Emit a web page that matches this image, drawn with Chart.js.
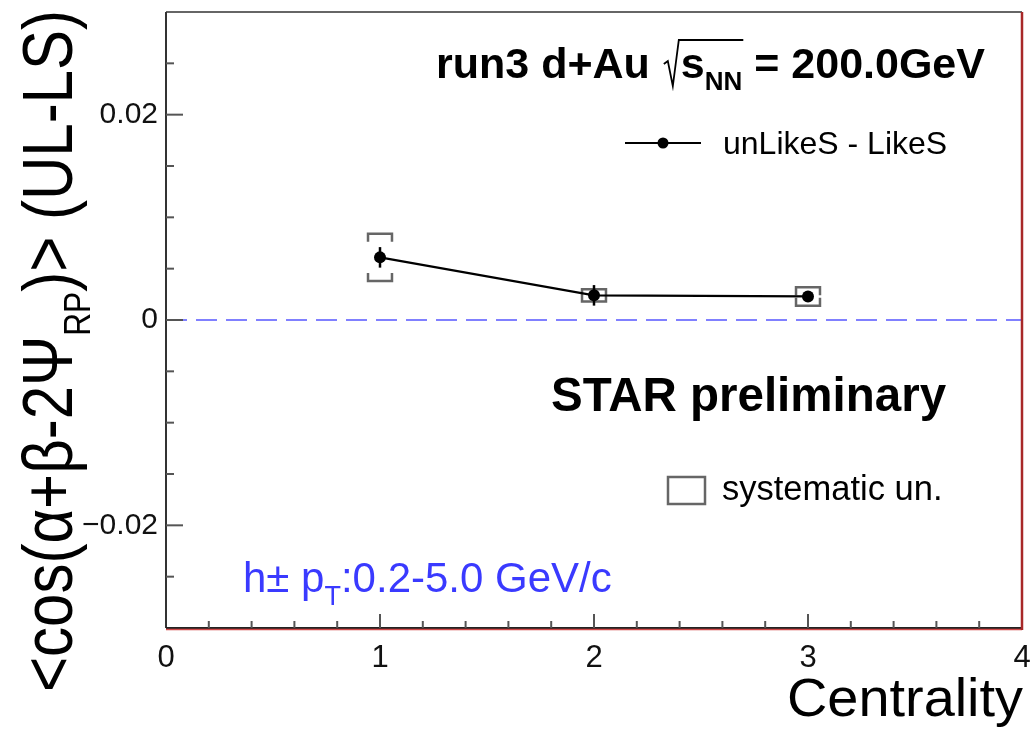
<!DOCTYPE html>
<html>
<head>
<meta charset="utf-8">
<script src="https://cdn.jsdelivr.net/npm/chart.js@4.4.1/dist/chart.umd.min.js"></script>
<style>
  html, body { margin: 0; padding: 0; background: #fff; }
  #wrap { width: 1036px; height: 730px; }
</style>
</head>
<body>
<div id="wrap"><canvas id="chart" width="1036" height="730"></canvas></div>
<script>
// data
const centrality = [1, 2, 3];
const corrValues = [0.0061, 0.0024, 0.0023];
const statErrors = [0.0010, 0.0010, 0.0003];
const sysErrors = [0.0023, 0.0006, 0.0009];
const sysHalfWidth = 0.056;

const xTicks = [0, 1, 2, 3, 4];
const xTickLabels = ['0', '1', '2', '3', '4'];
const yTicks = [-0.02, 0, 0.02];
const yTickLabels = ['\u22120.02', '0', '0.02'];

const FONT = "'Liberation Sans', Arial, Helvetica, sans-serif";

// draws a list of text pieces one after another (for sub/superscripts)
function drawRuns(ctx, x, y, runs) {
  let cx = x;
  runs.forEach(r => {
    ctx.font = r.font;
    ctx.fillText(r.text, cx, y + (r.dy || 0));
    cx += ctx.measureText(r.text).width;
  });
  return cx;
}
function runsWidth(ctx, runs) {
  let w = 0;
  runs.forEach(r => { ctx.font = r.font; w += ctx.measureText(r.text).width; });
  return w;
}

const rootStyle = {
  id: 'rootStyle',
  beforeDatasetsDraw(chart) {
    const { ctx, chartArea: a, scales: { x, y } } = chart;
    ctx.save();
    // dashed zero line
    ctx.strokeStyle = '#8080ff';
    ctx.lineWidth = 2;
    ctx.setLineDash([21, 9]);
    ctx.beginPath();
    ctx.moveTo(a.left, y.getPixelForValue(0));
    ctx.lineTo(a.right, y.getPixelForValue(0));
    ctx.stroke();
    ctx.setLineDash([]);

    // systematic boxes (bracket style)
    ctx.strokeStyle = '#666';
    ctx.lineWidth = 2.5;
    centrality.forEach((c, i) => {
      const x0 = x.getPixelForValue(c - sysHalfWidth);
      const x1 = x.getPixelForValue(c + sysHalfWidth);
      const yt = y.getPixelForValue(corrValues[i] + sysErrors[i]);
      const yb = y.getPixelForValue(corrValues[i] - sysErrors[i]);
      const leg = Math.min(8, (yb - yt) / 2);
      ctx.beginPath();
      ctx.moveTo(x0, yt + leg); ctx.lineTo(x0, yt); ctx.lineTo(x1, yt); ctx.lineTo(x1, yt + leg);
      ctx.moveTo(x0, yb - leg); ctx.lineTo(x0, yb); ctx.lineTo(x1, yb); ctx.lineTo(x1, yb - leg);
      ctx.stroke();
    });

    // statistical error bars
    ctx.strokeStyle = '#000';
    ctx.lineWidth = 2.5;
    centrality.forEach((c, i) => {
      const px = x.getPixelForValue(c);
      ctx.beginPath();
      ctx.moveTo(px, y.getPixelForValue(corrValues[i] + statErrors[i]));
      ctx.lineTo(px, y.getPixelForValue(corrValues[i] - statErrors[i]));
      ctx.stroke();
    });
    ctx.restore();
  },
  afterDraw(chart) {
    const { ctx, chartArea: a, scales: { x, y } } = chart;
    ctx.save();

    // frame
    ctx.lineWidth = 2;
    ctx.strokeStyle = '#666';
    ctx.beginPath(); ctx.moveTo(a.left, a.top); ctx.lineTo(a.right, a.top); ctx.stroke();
    ctx.strokeStyle = '#333';
    ctx.beginPath(); ctx.moveTo(a.left, a.top); ctx.lineTo(a.left, a.bottom); ctx.stroke();
    ctx.strokeStyle = '#222';
    ctx.beginPath(); ctx.moveTo(a.left, a.bottom); ctx.lineTo(a.right, a.bottom); ctx.stroke();
    ctx.strokeStyle = '#d04848';
    ctx.lineWidth = 1.5;
    ctx.beginPath(); ctx.moveTo(a.left, a.bottom + 1.5); ctx.lineTo(a.right, a.bottom + 1.5); ctx.stroke();
    ctx.strokeStyle = '#a82828';
    ctx.lineWidth = 2.5;
    ctx.beginPath(); ctx.moveTo(a.right, a.top); ctx.lineTo(a.right, a.bottom + 2); ctx.stroke();

    // inward ticks
    ctx.strokeStyle = '#555';
    ctx.lineWidth = 2;
    for (let i = 1; i < 20; i++) {
      const px = x.getPixelForValue(i * 0.2);
      const len = i % 5 === 0 ? 14 : 7;
      ctx.beginPath(); ctx.moveTo(px, a.bottom); ctx.lineTo(px, a.bottom - len); ctx.stroke();
    }
    for (let i = -5; i <= 5; i++) {
      const py = y.getPixelForValue(i * 0.005);
      const len = i % 4 === 0 ? 17 : 8;
      ctx.beginPath(); ctx.moveTo(a.left, py); ctx.lineTo(a.left + len, py); ctx.stroke();
    }

    ctx.fillStyle = '#000';
    ctx.textAlign = 'left';
    ctx.textBaseline = 'alphabetic';

    // header: run3 d+Au sqrt(s_NN) = 200.0GeV
    let tx = 436, ty = 78;
    ctx.font = 'bold 43px ' + FONT;
    ctx.fillText('run3 d+Au', tx, ty);
    tx += ctx.measureText('run3 d+Au').width + 14;
    const rx = tx;
    tx += 17;
    tx = drawRuns(ctx, tx, ty, [
      { text: 's', font: 'bold 43px ' + FONT },
      { text: 'NN', font: 'bold 26px ' + FONT, dy: 12 }
    ]);
    ctx.strokeStyle = '#000';
    ctx.lineWidth = 1.8;
    ctx.beginPath();
    ctx.moveTo(rx, ty - 14); ctx.lineTo(rx + 4, ty - 17); ctx.lineTo(rx + 9, ty + 8);
    ctx.lineTo(rx + 15, ty - 38); ctx.lineTo(tx + 1, ty - 38);
    ctx.stroke();
    ctx.font = 'bold 43px ' + FONT;
    ctx.fillText(' = 200.0GeV', tx, ty);

    // legend
    ctx.lineWidth = 2.2;
    ctx.beginPath(); ctx.moveTo(625, 143); ctx.lineTo(701, 143); ctx.stroke();
    ctx.beginPath(); ctx.arc(663, 143, 5.5, 0, Math.PI * 2); ctx.fill();
    ctx.font = '32px ' + FONT;
    ctx.fillText('unLikeS - LikeS', 723, 154);

    ctx.strokeStyle = '#666';
    ctx.lineWidth = 2.5;
    ctx.strokeRect(668, 477, 37, 27);
    ctx.font = '34.5px ' + FONT;
    ctx.fillText('systematic un.', 722, 500);

    ctx.font = 'bold 47.5px ' + FONT;
    ctx.fillText('STAR preliminary', 551, 411);

    // blue kinematic label
    ctx.fillStyle = '#3a3aff';
    drawRuns(ctx, 243, 592, [
      { text: 'h\u00b1 p', font: '42px ' + FONT },
      { text: 'T', font: '27px ' + FONT, dy: 13 },
      { text: ':0.2-5.0 GeV/c', font: '42px ' + FONT }
    ]);

    // x axis title
    ctx.fillStyle = '#000';
    ctx.font = '54px ' + FONT;
    const cw = ctx.measureText('Centrality').width;
    ctx.save();
    ctx.translate(1023, 716);
    ctx.scale(236 / cw, 1);
    ctx.textAlign = 'right';
    ctx.fillText('Centrality', 0, 0);
    ctx.restore();

    // y axis title, rotated
    const yRuns = [
      { text: '<cos(\u03b1+\u03b2-2\u03a8', font: '70px ' + FONT },
      { text: 'RP', font: '37px ' + FONT, dy: 18 },
      { text: ')> (UL-LS)', font: '70px ' + FONT }
    ];
    const yw = runsWidth(ctx, yRuns);
    ctx.save();
    ctx.translate(72, 692);
    ctx.rotate(-Math.PI / 2);
    ctx.scale(682 / yw, 1);
    drawRuns(ctx, 0, 0, yRuns);
    ctx.restore();

    ctx.restore();
  }
};

new Chart(document.getElementById('chart').getContext('2d'), {
  type: 'line',
  data: {
    datasets: [{
      label: 'unLikeS - LikeS',
      data: centrality.map((c, i) => ({ x: c, y: corrValues[i] })),
      borderColor: '#000',
      borderWidth: 2.2,
      pointRadius: 6,
      pointBackgroundColor: '#000',
      pointBorderWidth: 0,
      tension: 0,
      fill: false
    }]
  },
  options: {
    responsive: false,
    animation: false,
    devicePixelRatio: 1,
    layout: { padding: { left: 0, right: 14, top: 12, bottom: 0 } },
    plugins: {
      legend: { display: false },
      title: { display: false },
      tooltip: { enabled: false }
    },
    scales: {
      x: {
        type: 'linear',
        min: 0,
        max: 4,
        afterBuildTicks: s => { s.ticks = xTicks.map(v => ({ value: v })); },
        afterFit: s => { s.height = 102; s.paddingLeft = 0; s.paddingRight = 0; },
        ticks: {
          callback: (v, i) => xTickLabels[i],
          font: { family: FONT, size: 31 },
          color: '#111',
          padding: 12,
          maxRotation: 0,
          autoSkip: false
        },
        grid: { display: false, drawTicks: false },
        border: { display: false }
      },
      y: {
        type: 'linear',
        min: -0.03,
        max: 0.03,
        afterBuildTicks: s => { s.ticks = yTicks.map(v => ({ value: v })); },
        afterFit: s => { s.width = 166; s.paddingTop = 0; s.paddingBottom = 0; },
        ticks: {
          callback: (v, i) => yTickLabels[i],
          font: { family: FONT, size: 30 },
          color: '#111',
          padding: 8,
          autoSkip: false
        },
        grid: { display: false, drawTicks: false },
        border: { display: false }
      }
    }
  },
  plugins: [rootStyle]
});
</script>
</body>
</html>
